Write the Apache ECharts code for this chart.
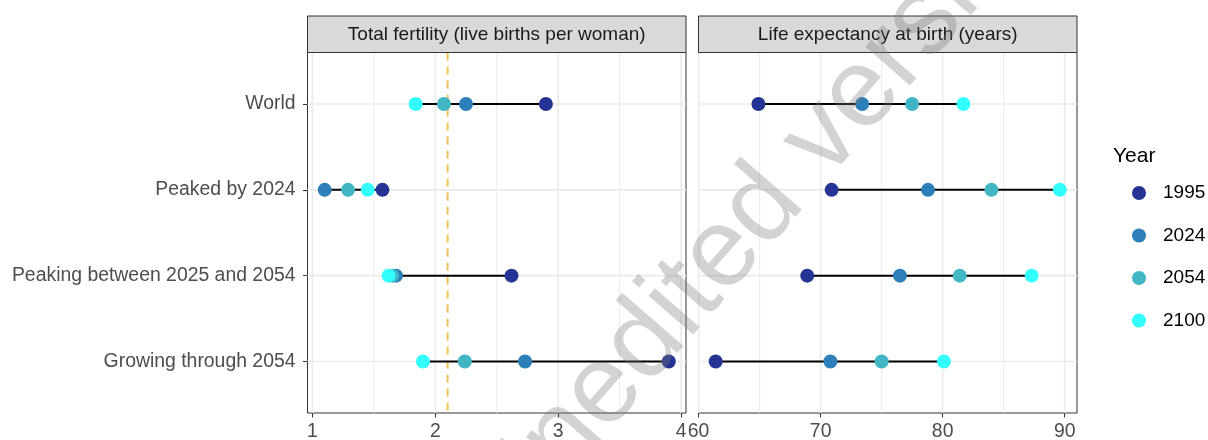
<!DOCTYPE html>
<html><head><meta charset="utf-8">
<script src="https://cdn.jsdelivr.net/npm/echarts@6/dist/echarts.min.js"></script>
<style>html,body{margin:0;padding:0;background:#fff}#c{width:1208px;height:440px}</style>
</head><body><div id="c"></div>
<script>
const regions = ['World', 'Peaked by 2024', 'Peaking between 2025 and 2054', 'Growing through 2054'];
const years = ['1995', '2024', '2054', '2100'];
const yearColors = ['#253494', '#2c7fb8', '#41b6c4', '#33ffff'];
const panelTitles = ['Total fertility (live births per woman)', 'Life expectancy at birth (years)'];
// Total fertility by year (one value per region, same order as regions)
const fert1995 = [2.90, 1.57, 2.62, 3.90];
const fert2024 = [2.25, 1.10, 1.68, 2.73];
const fert2054 = [2.07, 1.29, 1.65, 2.24];
const fert2100 = [1.84, 1.45, 1.62, 1.90];
// Life expectancy by year
const life1995 = [64.9, 70.9, 68.9, 61.4];
const life2024 = [73.4, 78.8, 76.5, 70.8];
const life2054 = [77.5, 84.0, 81.4, 75.0];
const life2100 = [81.7, 89.6, 87.3, 80.1];
const fertTicks = [1, 2, 3, 4];
const lifeTicks = [60, 70, 80, 90];
const replacementLevel = 2.1;

const panels = [
  { series: [fert1995, fert2024, fert2054, fert2100], ticks: fertTicks, ref: replacementLevel },
  { series: [life1995, life2024, life2054, life2100], ticks: lifeTicks, ref: null }
];

// layout (pixels)
const L = { top: 52.5, height: 360.5, strip: 36.5, lefts: [307.5, 698.5], width: 378.5 };
const FONT = 'Liberation Sans, Arial, sans-serif';

function extentOf(arrs) {
  let lo = Infinity, hi = -Infinity;
  arrs.forEach(a => a.forEach(v => { lo = Math.min(lo, v); hi = Math.max(hi, v); }));
  const pad = (hi - lo) * 0.05;
  return [lo - pad, hi + pad];
}

const grids = [], xAxes = [], yAxes = [], series = [], graphics = [];
const yMin = 0.4, yMax = regions.length + 0.6;
const rowVals = regions.map((r, i) => i + 1);

panels.forEach((p, pi) => {
  const ext = extentOf(p.series);
  grids.push({ left: L.lefts[pi], top: L.top, width: L.width, height: L.height,
    outerBoundsMode: 'none', containLabel: false,
    show: true, borderColor: '#333333', borderWidth: 1, backgroundColor: '#ffffff' });
  xAxes.push({ type: 'value', gridIndex: pi, min: ext[0], max: ext[1],
    axisLine: { show: false },
    axisTick: { show: true, customValues: p.ticks, length: 4.5, lineStyle: { color: '#333333', width: 1 } },
    axisLabel: { customValues: p.ticks, fontSize: 19.4, color: '#4d4d4d', margin: 9, fontFamily: FONT },
    splitLine: { show: false } });
  yAxes.push({ type: 'value', gridIndex: pi, inverse: true, min: yMin, max: yMax,
    axisLine: { show: false },
    axisTick: { show: pi === 0, customValues: rowVals, length: 4.5, lineStyle: { color: '#333333', width: 1 } },
    axisLabel: { show: pi === 0, customValues: rowVals, formatter: v => regions[Math.round(v) - 1] || '',
      fontSize: 19.4, color: '#4d4d4d', margin: 12, fontFamily: FONT },
    splitLine: { show: false } });

  // gridlines: major at ticks, minor at midpoints, horizontal at rows
  const step = p.ticks[1] - p.ticks[0];
  const gridData = [];
  p.ticks.forEach(t => gridData.push([t, 0]));
  for (let t = p.ticks[0] - step / 2; t <= ext[1]; t += step) if (t >= ext[0]) gridData.push([t, 1]);
  rowVals.forEach(r => gridData.push([r, 2]));
  series.push({ type: 'custom', xAxisIndex: pi, yAxisIndex: pi, z: 1, silent: true,
    encode: { x: -1, y: -1 }, data: gridData,
    renderItem: (params, api) => {
      const v = api.value(0), kind = api.value(1);
      let a, b;
      if (kind === 2) { a = api.coord([ext[0], v]); b = api.coord([ext[1], v]); }
      else { a = api.coord([v, yMin]); b = api.coord([v, yMax]); }
      return { type: 'line', shape: { x1: a[0], y1: a[1], x2: b[0], y2: b[1] },
        style: { stroke: '#ebebeb', lineWidth: kind === 1 ? 1 : 1.6 } };
    } });

  if (p.ref !== null) {
    series.push({ type: 'custom', xAxisIndex: pi, yAxisIndex: pi, z: 2, silent: true,
      data: [[p.ref, 1]],
      renderItem: (params, api) => {
        const a = api.coord([api.value(0), yMin]), b = api.coord([api.value(0), yMax]);
        return { type: 'line', shape: { x1: a[0], y1: a[1], x2: b[0], y2: b[1] },
          style: { stroke: '#eebf55', lineWidth: 2, lineDash: [8, 6] } };
      } });
  }

  // dumbbell segments from min to max per row
  const segData = regions.map((r, i) => {
    const vals = p.series.map(s => s[i]);
    return [Math.min(...vals), Math.max(...vals), i + 1];
  });
  series.push({ type: 'custom', xAxisIndex: pi, yAxisIndex: pi, z: 3, silent: true,
    data: segData,
    renderItem: (params, api) => {
      const a = api.coord([api.value(0), api.value(2)]), b = api.coord([api.value(1), api.value(2)]);
      return { type: 'line', shape: { x1: a[0], y1: a[1], x2: b[0], y2: b[1] },
        style: { stroke: '#000000', lineWidth: 2 } };
    } });

  p.series.forEach((s, si) => {
    series.push({ type: 'scatter', name: years[si], xAxisIndex: pi, yAxisIndex: pi, z: 4 + si,
      symbol: 'circle', symbolSize: 14, itemStyle: { color: yearColors[si], opacity: 1 },
      data: s.map((v, i) => [v, i + 1]) });
  });

  graphics.push({ type: 'rect', shape: { x: L.lefts[pi], y: L.top - L.strip, width: L.width, height: L.strip },
    style: { fill: '#d9d9d9', stroke: '#333333', lineWidth: 1 }, z: 10 });
  graphics.push({ type: 'text', x: L.lefts[pi] + L.width / 2, y: L.top - L.strip / 2 + 1,
    style: { text: panelTitles[pi], fontSize: 19, fill: '#1a1a1a', align: 'center', verticalAlign: 'middle',
      fontFamily: FONT }, z: 11 });
});

graphics.push({ type: 'text', x: 1113, y: 156,
  style: { text: 'Year', fontSize: 21, fill: '#000000', align: 'left', verticalAlign: 'middle',
    fontFamily: FONT }, z: 11 });
graphics.push({ type: 'text', x: 765, y: 205, rotation: 49 * Math.PI / 180,
  style: { text: 'Unedited version', fontSize: 112, fill: 'rgba(120,120,120,0.33)', align: 'center', verticalAlign: 'middle',
    fontFamily: FONT }, z: 50, silent: true });

const chart = echarts.init(document.getElementById('c'), null, { renderer: 'canvas' });
chart.setOption({
  animation: false,
  backgroundColor: '#ffffff',
  grid: grids, xAxis: xAxes, yAxis: yAxes, series: series, graphic: graphics,
  legend: { orient: 'vertical', left: 1127, top: 178.5, itemWidth: 14, itemHeight: 14, itemGap: 23.5,
    icon: 'circle', data: years, selectedMode: false,
    formatter: '{t|{name}}',
    textStyle: { rich: { t: { fontSize: 19, color: '#000000', padding: [0, 0, 0, 12], fontFamily: FONT } } } }
});
</script></body></html>
